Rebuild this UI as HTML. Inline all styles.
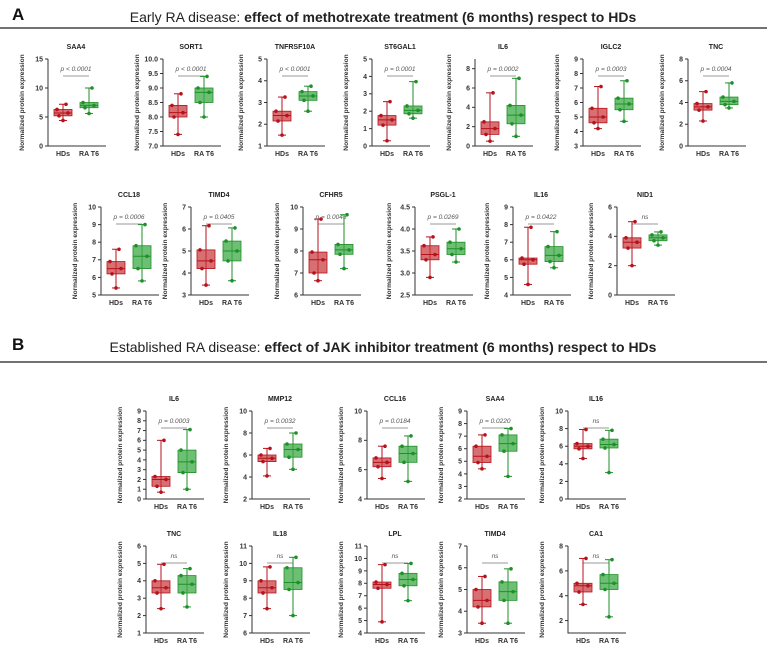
<!DOCTYPE html>
<html><head><meta charset="utf-8"><style>
html,body{margin:0;padding:0;background:#fff;}
svg{display:block;font-family:"Liberation Sans",Arial,sans-serif;}
</style></head><body>
<svg id="fig" width="767" height="645" viewBox="0 0 767 645">
<text x="12" y="20" font-size="17" font-weight="bold" fill="#111">A</text>
<text x="383" y="22" font-size="14" text-anchor="middle" fill="#222">Early RA disease: <tspan font-weight="bold">effect of methotrexate treatment (6 months) respect to HDs</tspan></text>
<line x1="0" y1="28" x2="767" y2="28" stroke="#444" stroke-width="1.6"/>
<text x="12" y="350" font-size="17" font-weight="bold" fill="#111">B</text>
<text x="383" y="352" font-size="14" text-anchor="middle" fill="#222">Established RA disease: <tspan font-weight="bold">effect of JAK inhibitor treatment (6 months) respect to HDs</tspan></text>
<line x1="0" y1="362" x2="767" y2="362" stroke="#444" stroke-width="1.6"/>
<g id="plots"></g>
</svg>
<script>
// chart data: names, axis ranges, ticks, p-values, five-number summaries (min,q1,median,q3,max)
const names = ["SAA4","SORT1","TNFRSF10A","ST6GAL1","IL6","IGLC2","TNC",
 "CCL18","TIMD4","CFHR5","PSGL-1","IL16","NID1",
 "IL6","MMP12","CCL16","SAA4","IL16",
 "TNC","IL18","LPL","TIMD4","CA1"];
const yRanges = [[0,15],[7,10],[1,5],[0,5],[0,9],[3,9],[0,8],
 [5,10],[3,7],[6,10],[2.5,4.5],[4,9],[0,6],
 [0,9],[2,10],[4,10],[2,9],[0,10],
 [1,6],[6,11],[4,11],[3,7],[1,8]];
const tickLabels = [["0","5","10","15"],["7.0","7.5","8.0","8.5","9.0","9.5","10.0"],["1","2","3","4","5"],["0","1","2","3","4","5"],["0","2","4","6","8"],["3","4","5","6","7","8","9"],["0","2","4","6","8"],
 ["5","6","7","8","9","10"],["3","4","5","6","7"],["6","7","8","9","10"],["2.5","3.0","3.5","4.0","4.5"],["4","5","6","7","8","9"],["0","2","4","6"],
 ["0","1","2","3","4","5","6","7","8","9"],["2","4","6","8","10"],["4","6","8","10"],["2","3","4","5","6","7","8","9"],["0","2","4","6","8","10"],
 ["1","2","3","4","5","6"],["6","7","8","9","10","11"],["4","5","6","7","8","9","10","11"],["3","4","5","6","7"],["2","4","6","8"]];
const pValues = ["p < 0.0001","p < 0.0001","p < 0.0001","p = 0.0001","p = 0.0002","p = 0.0003","p = 0.0004",
 "p = 0.0006","p = 0.0405","p = 0.0045","p = 0.0269","p = 0.0422","ns",
 "p = 0.0003","p = 0.0032","p = 0.0184","p = 0.0220","ns",
 "ns","ns","ns","ns","ns"];
const hdStats = [[4.4,5.2,5.7,6.3,7.2],[7.4,8.0,8.15,8.4,8.8],[1.5,2.15,2.4,2.6,3.25],[0.3,1.2,1.5,1.75,2.55],[0.5,1.2,1.8,2.5,5.5],[4.2,4.6,5.0,5.6,7.1],[2.3,3.3,3.6,3.9,5.0],
 [5.4,6.2,6.5,6.9,7.6],[3.45,4.2,4.55,5.05,6.15],[6.65,7.0,7.6,7.95,9.45],[2.9,3.3,3.42,3.62,3.82],[4.6,5.75,6.0,6.1,7.85],[2.0,3.2,3.6,3.9,5.0],
 [0.7,1.3,2.0,2.3,6.0],[4.1,5.4,5.7,6.0,6.6],[5.4,6.2,6.5,6.8,7.6],[4.4,4.9,5.4,6.2,7.1],[4.6,5.7,6.0,6.3,7.9],
 [2.4,3.3,3.6,4.0,4.95],[7.4,8.3,8.6,9.0,9.8],[4.9,7.6,7.9,8.1,9.5],[3.45,4.2,4.5,5.0,5.6],[3.3,4.3,4.8,5.0,7.0]];
const raStats = [[5.6,6.6,7.0,7.5,10],[8.0,8.5,8.85,9.0,9.4],[2.6,3.1,3.3,3.5,3.75],[1.6,1.85,2.05,2.3,3.7],[1.0,2.3,3.2,4.2,7.0],[4.7,5.5,5.9,6.3,7.5],[3.5,3.8,4.1,4.5,5.8],
 [5.8,6.5,7.2,7.8,9.0],[3.65,4.55,5.0,5.45,6.05],[7.2,7.85,8.05,8.3,9.65],[3.25,3.42,3.55,3.7,4.0],[5.55,5.9,6.25,6.75,7.6],[3.4,3.7,3.9,4.1,4.3],
 [1.0,2.7,3.8,5.0,7.1],[4.7,5.8,6.5,7.0,8.0],[5.2,6.5,7.1,7.6,8.3],[3.8,5.8,6.4,7.1,7.6],[3.0,5.8,6.2,6.8,7.8],
 [2.5,3.3,3.8,4.3,4.7],[7.0,8.5,8.9,9.75,10.35],[6.6,7.8,8.3,8.8,9.6],[3.45,4.5,4.9,5.35,5.95],[2.3,4.5,5.0,5.7,6.9]];
const groups = ["HDs","RA T6"];

// layout (positions only)
const axisX = [48,163,267,372,475,583,688, 101,191,303,415,513,617, 146,252,367,467,568, 146,252,367,467,568];
const rowOf = [0,0,0,0,0,0,0, 1,1,1,1,1,1, 2,2,2,2,2, 3,3,3,3,3];
const rowTop = [59,207,411,546];
const rowBot = [146,295,499,633];

const NS="http://www.w3.org/2000/svg";
const root=document.getElementById('plots');
function mk(tag,attrs,parent){const e=document.createElementNS(NS,tag);for(const k in attrs)e.setAttribute(k,attrs[k]);(parent||root).appendChild(e);return e;}

names.forEach((nm,i)=>{
  const ax=axisX[i], top=rowTop[rowOf[i]], bot=rowBot[rowOf[i]];
  const [lo,hi]=yRanges[i];
  const y=v=>bot-(v-lo)/(hi-lo)*(bot-top);
  const g=mk('g',{});
  
  
  let t=mk('text',{x:ax+28,y:top-10,'font-size':7,'font-weight':'bold','text-anchor':'middle',fill:'#222'},g);
  t.textContent=nm;
  
  
  t=mk('text',{x:ax-24,y:(top+bot)/2,'font-size':6.6,'font-weight':'bold','text-anchor':'middle',fill:'#333',transform:`rotate(-90 ${ax-24} ${(top+bot)/2})`},g);
  t.textContent='Normalized protein expression';
  
  
  const a=mk('path',{d:`M${ax} ${top}V${bot}H${ax+58}`,stroke:'#333','stroke-width':1,fill:'none'},g);
  
  
  tickLabels[i].forEach(l=>{
    const yy=y(parseFloat(l));
    mk('line',{x1:ax-3,x2:ax,y1:yy,y2:yy,stroke:'#333','stroke-width':1},g);
    const tl=mk('text',{x:ax-5,y:yy+2.4,'font-size':7,'font-weight':'bold','text-anchor':'end',fill:'#333'},g);
    tl.textContent=l;
    
    
  });
  const pt=mk('text',{x:ax+28,y:top+12,'font-size':6.5,'font-style':'italic','text-anchor':'middle',fill:'#555'},g);
  pt.textContent=pValues[i];
  
  
  mk('line',{x1:ax+15,x2:ax+41,y1:top+17,y2:top+17,stroke:'#777','stroke-width':0.8},g);
  [hdStats[i],raStats[i]].forEach((s,k)=>{
    const cx=ax+(k?41:15);
    const col=k?'#1f8f2a':'#b5121b', fill=k?'rgba(60,170,70,0.75)':'rgba(200,50,55,0.7)';
    mk('line',{x1:cx,x2:cx,y1:y(s[0]),y2:y(s[4]),stroke:col,'stroke-width':1},g);
    mk('line',{x1:cx-4,x2:cx+4,y1:y(s[0]),y2:y(s[0]),stroke:col,'stroke-width':1},g);
    mk('line',{x1:cx-4,x2:cx+4,y1:y(s[4]),y2:y(s[4]),stroke:col,'stroke-width':1},g);
    const b=mk('rect',{x:cx-9,y:y(s[3]),width:18,height:Math.max(1,y(s[1])-y(s[3])),fill:fill,stroke:col,'stroke-width':0.8},g);
    
    
    mk('line',{x1:cx-9,x2:cx+9,y1:y(s[2]),y2:y(s[2]),stroke:col,'stroke-width':1},g);
    const jit=[0,-4,5,-6,3];
    s.forEach((v,j)=>{
      const d=mk('circle',{cx:cx+jit[j],cy:y(v),r:1.8,fill:col},g);
      
      
    });
    const xl=mk('text',{x:cx,y:bot+10,'font-size':7,'font-weight':'bold','text-anchor':'middle',fill:'#333'},g);
    xl.textContent=groups[k];
    
    
  });
});
</script>
</body></html>
